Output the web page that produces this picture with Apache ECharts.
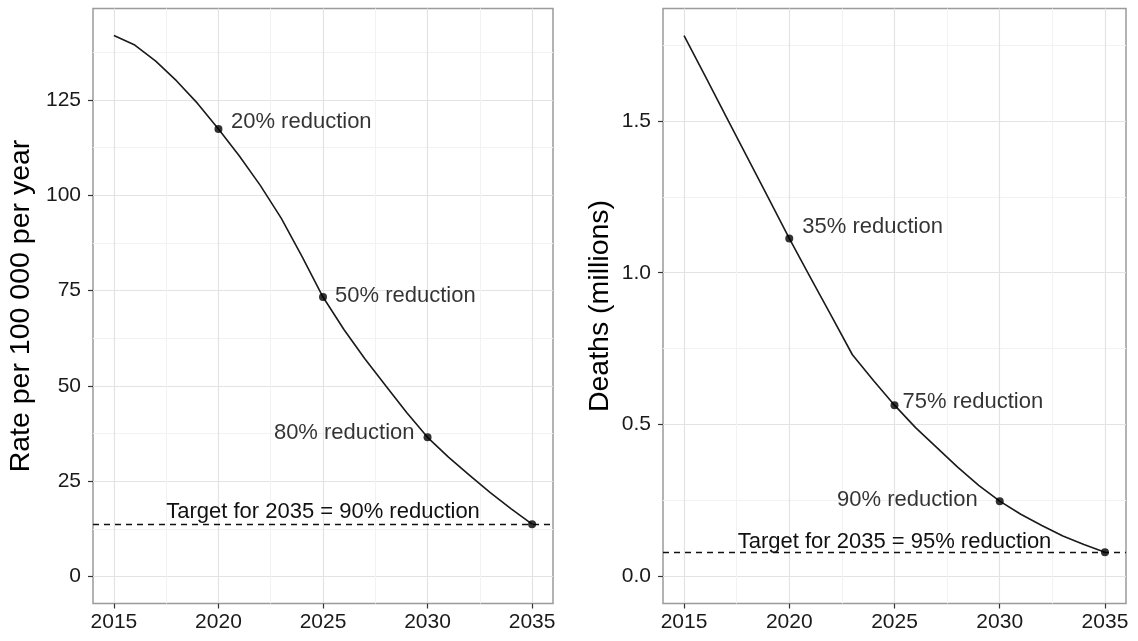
<!DOCTYPE html>
<html><head><meta charset="utf-8">
<script src="https://cdn.jsdelivr.net/npm/echarts@6/dist/echarts.min.js"></script>
<style>html,body{margin:0;padding:0;background:#fff}#c{width:1138px;height:641px}</style>
</head><body><div id="c"></div>
<script>
// ---- data ----
const years = [2015,2016,2017,2018,2019,2020,2021,2022,2023,2024,2025,2026,2027,2028,2029,2030,2031,2032,2033,2034,2035];
const rate = [141.9,139.4,135.2,130.0,124.1,117.4,110.3,102.6,94.0,83.9,73.3,64.8,57.1,50.0,43.0,36.5,31.3,26.6,22.0,17.7,13.7];
const deaths = [1.781,1.648,1.514,1.381,1.247,1.113,0.985,0.858,0.730,0.645,0.564,0.490,0.425,0.360,0.300,0.248,0.205,0.168,0.133,0.105,0.080];
const milestoneYears = [2020,2025,2030,2035];
const rateLabels = ['20% reduction','50% reduction','80% reduction',''];
const deathLabels = ['35% reduction','75% reduction','90% reduction',''];
const rateTargetText = 'Target for 2035 = 90% reduction';
const deathTargetText = 'Target for 2035 = 95% reduction';
const xTicks = [2015,2020,2025,2030,2035];
const xMinorTicks = [2017.5,2022.5,2027.5,2032.5];
const rateTicks = [0,25,50,75,100,125];
const rateMinorTicks = [12.5,37.5,62.5,87.5,112.5,137.5];
const deathTicks = [0,0.5,1.0,1.5];
const deathMinorTicks = [0.25,0.75,1.25,1.75];
const rateTitle = 'Rate per 100 000 per year';
const deathTitle = 'Deaths (millions)';

// ---- styling (not data) ----
const FONT = 'Liberation Sans, Arial, sans-serif';
const rateLabelPlace = [['right',8.5,-7],['right',8,-1.5],['left',9,-4.5],['right',0,0]];
const deathLabelPlace = [['right',9,-11.5],['right',4,-3.5],['left',18,-1],['right',0,0]];

const xRange = [2014, 2036];
const rateRange = [-7.1, 149.0];
const deathRange = [-0.089, 1.870];

function pairs(vals){ return years.map((y,i)=>[y, vals[i]]); }
function milestones(vals, labels, place){
  return milestoneYears.map((y,i)=>({
    value:[y, vals[years.indexOf(y)]],
    label:{show: labels[i] !== '', formatter: labels[i], position: place[i][0], distance: place[i][1],
      offset:[0, place[i][2]], fontSize:22, color:'#000', fontFamily:FONT}
  }));
}
function mainX(grid){
  return {type:'value', gridIndex:grid, min:xRange[0], max:xRange[1], position:'bottom',
    axisLine:{show:false, onZero:false},
    axisTick:{show:true, length:5, customValues:xTicks, lineStyle:{color:'#333', width:1.2}},
    axisLabel:{show:true, customValues:xTicks, margin:8, fontSize:21, color:'#1a1a1a', fontFamily:FONT, formatter:v=>String(v)},
    splitLine:{show:true, lineStyle:{color:'#e3e3e3', width:1.2}}};
}
function minorX(grid){
  return {type:'value', gridIndex:grid, min:xRange[0], max:xRange[1], position:'bottom',
    axisLine:{show:false, onZero:false}, axisTick:{show:false, customValues:xMinorTicks},
    axisLabel:{show:false}, splitLine:{show:true, lineStyle:{color:'#f2f2f2', width:1}}};
}
function mainY(grid, range, ticks, title, fmt, gap){
  return {type:'value', gridIndex:grid, min:range[0], max:range[1], position:'left',
    axisLine:{show:false, onZero:false},
    axisTick:{show:true, length:5, customValues:ticks, lineStyle:{color:'#333', width:1.2}},
    axisLabel:{show:true, customValues:ticks, margin:12, fontSize:21, color:'#1a1a1a', fontFamily:FONT, formatter:fmt},
    splitLine:{show:true, lineStyle:{color:'#e3e3e3', width:1.2}},
    name:title, nameLocation:'middle', nameGap:gap,
    nameTextStyle:{fontSize:28.5, color:'#000', fontFamily:FONT}};
}
function minorY(grid, range, ticks){
  return {type:'value', gridIndex:grid, min:range[0], max:range[1], position:'left',
    axisLine:{show:false, onZero:false}, axisTick:{show:false, customValues:ticks},
    axisLabel:{show:false}, splitLine:{show:true, lineStyle:{color:'#f2f2f2', width:1}}};
}
function lineSeries(xi, yi, vals, target, targetText, dist){
  return {type:'line', xAxisIndex:xi, yAxisIndex:yi, data:pairs(vals), showSymbol:false,
    smooth:false, lineStyle:{color:'#1a1a1a', width:1.6, join:'round'}, z:5,
    markLine:{silent:true, symbol:'none', animation:false,
      lineStyle:{color:'#111', width:1.3, type:[6,5]},
      label:{show:true, position:'middle', formatter:targetText, distance:dist, fontSize:22, color:'#111', fontFamily:FONT},
      data:[{yAxis:target}]}};
}
function pointSeries(xi, yi, vals, labels, place){
  return {type:'scatter', xAxisIndex:xi, yAxisIndex:yi, data:milestones(vals, labels, place),
    symbolSize:8, itemStyle:{color:'#000'}, z:6};
}

const chart = echarts.init(document.getElementById('c'), null, {renderer:'canvas'});
chart.setOption({
  animation:false,
  backgroundColor:'#fff',
  grid:[
    {left:93, top:8.5, right:585, bottom:37.5, show:true, borderColor:'#9a9a9a', borderWidth:1.5, backgroundColor:'#fff'},
    {left:663, top:8.5, right:12, bottom:37.5, show:true, borderColor:'#9a9a9a', borderWidth:1.5, backgroundColor:'#fff'}
  ],
  xAxis:[minorX(0), mainX(0), minorX(1), mainX(1)],
  yAxis:[
    minorY(0, rateRange, rateMinorTicks),
    mainY(0, rateRange, rateTicks, rateTitle, v=>String(v), 57),
    minorY(1, deathRange, deathMinorTicks),
    mainY(1, deathRange, deathTicks, deathTitle, v=>v.toFixed(1), 48)
  ],
  series:[
    lineSeries(1, 1, rate, rate[years.indexOf(2035)], rateTargetText, 1),
    pointSeries(1, 1, rate, rateLabels, rateLabelPlace),
    lineSeries(3, 3, deaths, deaths[years.indexOf(2035)], deathTargetText, -1),
    pointSeries(3, 3, deaths, deathLabels, deathLabelPlace)
  ]
});
</script></body></html>
